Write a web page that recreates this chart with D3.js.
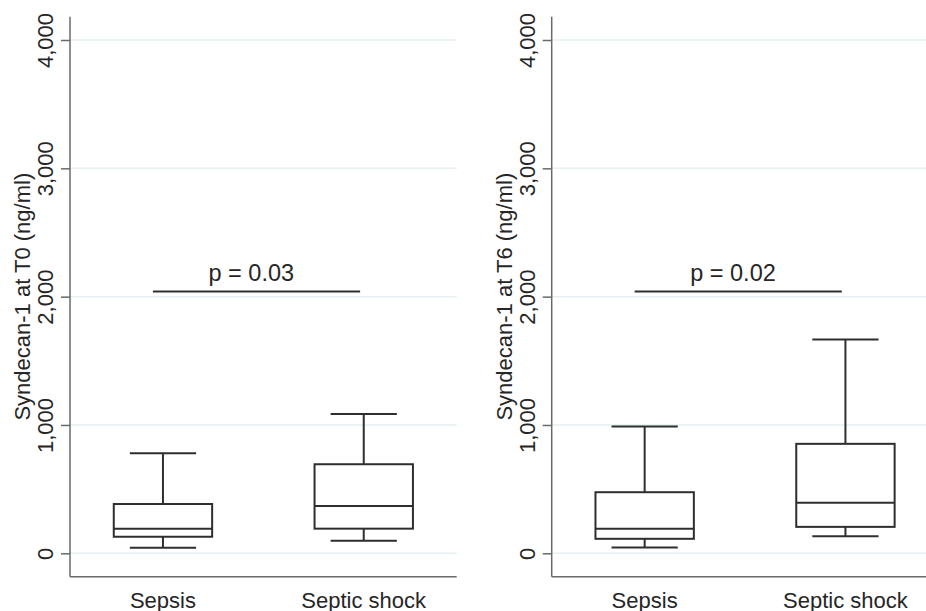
<!DOCTYPE html>
<html>
<head>
<meta charset="utf-8">
<script src="https://cdn.jsdelivr.net/npm/d3@7"></script>
<style>
  html, body { margin: 0; padding: 0; background: #fff; }
  svg { display: block; }
  text { font-family: "Liberation Sans", Arial, sans-serif; fill: #262626; }
</style>
</head>
<body>
<div id="chart"></div>
<script>
// Groups and axis ticks
const categories = ["Sepsis", "Septic shock"];
const yTicks = [0, 1000, 2000, 3000, 4000];
const panelTitles = ["Syndecan-1 at T0 (ng/ml)", "Syndecan-1 at T6 (ng/ml)"];

// Box-plot summaries (ng/ml), one entry per group
const t0WhiskerLow = [44, 98];
const t0Q1 = [129, 192];
const t0Median = [192, 369];
const t0Q3 = [384, 694];
const t0WhiskerHigh = [779, 1085];

const t6WhiskerLow = [45, 133];
const t6Q1 = [113, 206];
const t6Median = [191, 394];
const t6Q3 = [476, 853];
const t6WhiskerHigh = [988, 1666];

// Significance bracket per panel
const pLabels = ["p = 0.03", "p = 0.02"];
const pBracketValue = [2040, 2040];

const panels = [
  { title: panelTitles[0], low: t0WhiskerLow, q1: t0Q1, med: t0Median, q3: t0Q3, high: t0WhiskerHigh, p: pLabels[0], pv: pBracketValue[0] },
  { title: panelTitles[1], low: t6WhiskerLow, q1: t6Q1, med: t6Median, q3: t6Q3, high: t6WhiskerHigh, p: pLabels[1], pv: pBracketValue[1] }
];

const W = 926, H = 611;
const svg = d3.select("#chart").append("svg").attr("width", W).attr("height", H);

const panelLeft = [70, 551.7];
const plotW = 386.7;
const axisTop = 16.7, axisBottom = 576.7;

const y = d3.scaleLinear().domain([0, 4000]).range([553.3, 40]);

panels.forEach((p, i) => {
  const g = svg.append("g").attr("transform", `translate(${panelLeft[i]},0)`);
  const x = d3.scalePoint().domain(categories).range([0, plotW]).padding(0.463);
  const step = x.step();

  // gridlines
  g.append("g").selectAll("line").data(yTicks).join("line")
    .attr("x1", 0).attr("x2", plotW)
    .attr("y1", d => y(d)).attr("y2", d => y(d))
    .attr("stroke", "#e6eff1").attr("stroke-width", 1.5);

  // y axis
  const ya = g.append("g").call(d3.axisLeft(y).tickValues(yTicks).tickSize(9).tickFormat(d3.format(",")));
  ya.select(".domain").remove();
  ya.selectAll(".tick line").attr("stroke", "#6a6a6a").attr("stroke-width", 1.5);
  ya.selectAll(".tick text")
    .attr("transform", "rotate(-90)")
    .attr("x", 0).attr("y", -17).attr("dy", 0)
    .attr("text-anchor", "middle")
    .style("font-size", "22px").style("fill", "#262626");
  g.append("line").attr("x1", 0).attr("x2", 0).attr("y1", axisTop).attr("y2", axisBottom)
    .attr("stroke", "#6a6a6a").attr("stroke-width", 1.5);

  // x axis
  g.append("line").attr("x1", 0).attr("x2", plotW).attr("y1", axisBottom).attr("y2", axisBottom)
    .attr("stroke", "#6a6a6a").attr("stroke-width", 1.5);
  g.append("g").selectAll("text").data(categories).join("text")
    .attr("x", d => x(d)).attr("y", 607.5)
    .attr("text-anchor", "middle").style("font-size", "22px")
    .text(d => d);

  // y title
  g.append("text")
    .attr("transform", `translate(-40,${(axisTop + axisBottom) / 2}) rotate(-90)`)
    .attr("text-anchor", "middle").style("font-size", "22px")
    .text(p.title);

  // boxes
  const boxW = 0.49 * step, capW = 0.33 * step;
  const stroke = "#2e2e2e", sw = 2;
  const bx = g.append("g");
  categories.forEach((c, k) => {
    const cx = x(c);
    const lo = y(p.low[k]), q1 = y(p.q1[k]), md = y(p.med[k]), q3 = y(p.q3[k]), hi = y(p.high[k]);
    bx.append("line").attr("x1", cx).attr("x2", cx).attr("y1", q3).attr("y2", hi)
      .attr("stroke", stroke).attr("stroke-width", sw);
    bx.append("line").attr("x1", cx).attr("x2", cx).attr("y1", q1).attr("y2", lo)
      .attr("stroke", stroke).attr("stroke-width", sw);
    bx.append("line").attr("x1", cx - capW / 2).attr("x2", cx + capW / 2).attr("y1", hi).attr("y2", hi)
      .attr("stroke", stroke).attr("stroke-width", sw);
    bx.append("line").attr("x1", cx - capW / 2).attr("x2", cx + capW / 2).attr("y1", lo).attr("y2", lo)
      .attr("stroke", stroke).attr("stroke-width", sw);
    bx.append("rect").attr("x", cx - boxW / 2).attr("width", boxW)
      .attr("y", q3).attr("height", q1 - q3)
      .attr("fill", "none").attr("stroke", stroke).attr("stroke-width", sw);
    bx.append("line").attr("x1", cx - boxW / 2).attr("x2", cx + boxW / 2).attr("y1", md).attr("y2", md)
      .attr("stroke", stroke).attr("stroke-width", sw);
  });

  // significance bracket
  const x0 = x(categories[0]), x1 = x(categories[1]);
  g.append("line")
    .attr("x1", x0 - 0.05 * step).attr("x2", x1 - 0.018 * step)
    .attr("y1", y(p.pv)).attr("y2", y(p.pv))
    .attr("stroke", stroke).attr("stroke-width", 2);
  g.append("text")
    .attr("x", x0 + 0.44 * step).attr("y", y(p.pv) - 10.5)
    .attr("text-anchor", "middle").style("font-size", "23.5px")
    .text(p.p);
});
</script>
</body>
</html>
